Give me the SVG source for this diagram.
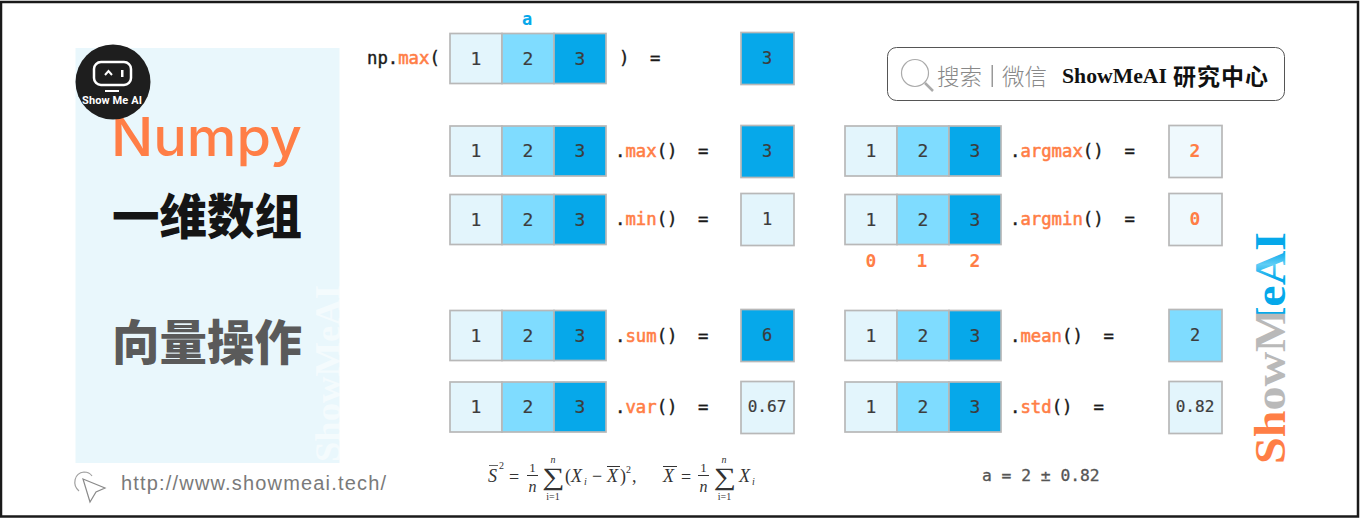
<svg xmlns="http://www.w3.org/2000/svg" width="1361" height="518" viewBox="0 0 1361 518">
<defs>
<linearGradient id="wm" gradientUnits="userSpaceOnUse" x1="0" y1="0" x2="232" y2="0">
<stop offset="0" stop-color="#ff7e46"/><stop offset="0.225" stop-color="#ff7e46"/><stop offset="0.23" stop-color="#b9b9b9"/><stop offset="0.645" stop-color="#b9b9b9"/><stop offset="0.65" stop-color="#06a8ea"/><stop offset="0.8" stop-color="#06a8ea"/><stop offset="0.86" stop-color="#5fcdf5"/><stop offset="0.92" stop-color="#06a8ea"/><stop offset="1" stop-color="#06a8ea"/>
</linearGradient>
<g id="arr">
<rect class="c1" x="0" y="0" width="52" height="50"/><rect class="c2" x="52" y="0" width="52" height="50"/><rect class="c3" x="104" y="0" width="52" height="50"/>
<text class="num" x="26" y="31">1</text><text class="num" x="78" y="31">2</text><text class="num" x="130" y="31">3</text>
</g>
</defs>
<style>
.c1{fill:#e3f5fc;stroke:#b8b8b8;stroke-width:1.7}
.c2{fill:#7fdcff;stroke:#b8b8b8;stroke-width:1.7}
.c3{fill:#06a8ea;stroke:#b8b8b8;stroke-width:1.7}
.c0{fill:#eff9fd;stroke:#b8b8b8;stroke-width:1.7}
text{font-family:"DejaVu Sans Mono","Liberation Mono",monospace}
.num{font-size:18px;fill:#3c3c3c;text-anchor:middle;stroke:#3c3c3c;stroke-width:.2}
.res{font-size:17px}
.sm{font-size:16px}
.on{fill:#ff7e46;stroke:#ff7e46;font-weight:bold;stroke-width:0}
.code{font-size:17.3px;fill:#1a1a1a;stroke:#1a1a1a;stroke-width:.4}
.o{fill:#ff7e46;stroke:#ff7e46;stroke-width:.55}
.big{font-family:"Noto Sans CJK SC",sans-serif;font-weight:900;font-size:47.5px;text-anchor:middle}
.m{font-family:"Liberation Serif",serif;fill:#333}
.mi{font-family:"Liberation Serif",serif;fill:#333;font-style:italic}
</style>
<rect x="0" y="0" width="1361" height="518" fill="#fff"/>
<rect x="1" y="2" width="1357" height="514.500" fill="none" stroke="#1a1a1a" stroke-width="2.500"/>

<g id="left-panel">
<rect x="75.500" y="48" width="264" height="415" fill="#e9f7fc"/>
<text transform="translate(340,462) rotate(-90)" style="font-family:'Liberation Serif',serif" font-weight="bold" font-size="35" fill="#fff" fill-opacity="0.5" textLength="177" lengthAdjust="spacingAndGlyphs">ShowMeAI</text>
<text x="111" y="156" style="font-family:'Inter',sans-serif" font-size="53" font-weight="500" fill="#ff7e46" textLength="191" lengthAdjust="spacingAndGlyphs">Numpy</text>
<text x="207" y="234" class="big" fill="#151515">一维数组</text>
<text x="207" y="360" class="big" fill="#5a5a5a">向量操作</text>
</g>
<g id="logo">
<circle cx="113" cy="82" r="37.500" fill="#1e1e1e"/>
<rect x="94" y="62" width="37" height="23" rx="7" fill="none" stroke="#fff" stroke-width="2.500"/>
<path d="M105 75l3.500-4l3.500 4" fill="none" stroke="#fff" stroke-width="2"/>
<rect x="121" y="70" width="2.500" height="7" fill="#fff"/>
<rect x="105" y="90" width="14" height="2" fill="#fff"/>
<text x="82" y="104" style="font-family:'Roboto',sans-serif" font-size="11" font-weight="bold" fill="#fff" textLength="60">Show Me AI</text>
</g>
<g id="url">
<path d="M83 479l22 9l-9 4l-6 10z" fill="none" stroke="#8a8a8a" stroke-width="1.200"/>
<path d="M79 491c-7-6-5-18 5-19c3 0 6 1 8 4" fill="none" stroke="#a0a0a0" stroke-width="1.200"/>
<text x="121" y="490" style="font-family:'Liberation Sans',sans-serif" font-size="20" fill="#7a7a7a" textLength="265">http://www.showmeai.tech/</text>
</g>

<g id="row-npmax">
<text x="527" y="25" font-size="17" font-weight="bold" fill="#06a8ea" text-anchor="middle">a</text>
<text x="367" y="64" class="code">np.<tspan class="o">max</tspan>(</text>
<use href="#arr" x="450" y="33.500"/>
<text x="619" y="64" class="code">)</text><text x="650" y="64" class="code">=</text>
<rect class="c3" x="741" y="32.500" width="53" height="52"/><text class="num res" x="767" y="63.500">3</text>
</g>
<g id="row-max">
<use href="#arr" x="450" y="126"/>
<text x="615" y="157" class="code">.<tspan class="o">max</tspan>()</text><text x="698" y="157" class="code">=</text>
<rect class="c3" x="741" y="125.500" width="53" height="52"/><text class="num res" x="767" y="157">3</text>
</g>
<g id="row-min">
<use href="#arr" x="450" y="194.500"/>
<text x="615" y="225" class="code">.<tspan class="o">min</tspan>()</text><text x="698" y="225" class="code">=</text>
<rect class="c1" x="741" y="193.500" width="53" height="52"/><text class="num res" x="767" y="225">1</text>
</g>
<g id="row-sum">
<use href="#arr" x="450" y="310.500"/>
<text x="615" y="341.500" class="code">.<tspan class="o">sum</tspan>()</text><text x="698" y="341.500" class="code">=</text>
<rect class="c3" x="741" y="309.500" width="53" height="52"/><text class="num res" x="767" y="341">6</text>
</g>
<g id="row-var">
<use href="#arr" x="450" y="382"/>
<text x="615" y="413" class="code">.<tspan class="o">var</tspan>()</text><text x="698" y="413" class="code">=</text>
<rect class="c1" x="741" y="381.500" width="53" height="52"/><text class="num sm" x="767" y="412">0.67</text>
</g>

<g id="row-argmax">
<use href="#arr" x="845" y="126"/>
<text x="1010" y="157" class="code">.<tspan class="o">argmax</tspan>()</text><text x="1124.500" y="157" class="code">=</text>
<rect class="c0" x="1169" y="125.500" width="53" height="52"/><text class="num on" x="1195" y="157">2</text>
</g>
<g id="row-argmin">
<use href="#arr" x="845" y="194.500"/>
<text x="1010" y="225" class="code">.<tspan class="o">argmin</tspan>()</text><text x="1124.500" y="225" class="code">=</text>
<rect class="c0" x="1169" y="193.500" width="53" height="52"/><text class="num on" x="1195" y="224.500">0</text>
<text class="num on" x="871" y="266.500">0</text><text class="num on" x="922" y="266.500">1</text><text class="num on" x="975" y="266.500">2</text>
</g>
<g id="row-mean">
<use href="#arr" x="845" y="310.500"/>
<text x="1010" y="341.500" class="code">.<tspan class="o">mean</tspan>()</text><text x="1103.500" y="341.500" class="code">=</text>
<rect class="c2" x="1169" y="309.500" width="53" height="52"/><text class="num res" x="1195" y="341">2</text>
</g>
<g id="row-std">
<use href="#arr" x="845" y="382"/>
<text x="1010" y="413" class="code">.<tspan class="o">std</tspan>()</text><text x="1093.500" y="413" class="code">=</text>
<rect class="c1" x="1169" y="381.500" width="53" height="52"/><text class="num sm" x="1195" y="412">0.82</text>
</g>

<g id="search">
<rect x="887.500" y="47.500" width="397" height="53" rx="9" fill="#fff" stroke="#555" stroke-width="1"/>
<circle cx="915" cy="73" r="13.500" fill="none" stroke="#aaa" stroke-width="1.200"/>
<path d="M925 83l8 8" stroke="#aaa" stroke-width="2.500"/>
<text x="937" y="85" style="font-family:'Noto Sans CJK SC',sans-serif" font-size="22.500" font-weight="300" fill="#888">搜索</text>
<rect x="991.500" y="65" width="1.500" height="22" fill="#999"/>
<text x="1002" y="85" style="font-family:'Noto Sans CJK SC',sans-serif" font-size="22.500" font-weight="300" fill="#888">微信</text>
<text x="1062" y="83" style="font-family:'Liberation Serif','Noto Sans CJK SC',serif" font-size="21" font-weight="bold" fill="#111" textLength="105" lengthAdjust="spacingAndGlyphs">ShowMeAI</text>
<text x="1173" y="85" style="font-family:'Noto Sans CJK SC',sans-serif" font-size="23" font-weight="bold" fill="#111" letter-spacing="1">研究中心</text>
</g>

<g id="formula">
<text x="488" y="482" class="mi" font-size="18">S</text><rect x="489" y="465" width="9" height="1" fill="#666"/><text x="499" y="469" class="m" font-size="10">2</text>
<text x="509" y="483" class="m" font-size="18">=</text>
<text x="532.500" y="472" class="m" font-size="13" text-anchor="middle">1</text><rect x="527" y="475" width="11" height="1" fill="#333"/><text x="532.500" y="491.500" class="mi" font-size="16" text-anchor="middle">n</text>
<text transform="translate(553.500,485) scale(1.250,1)" class="m" font-size="25" text-anchor="middle">∑</text>
<text x="553" y="463" class="mi" font-size="10" text-anchor="middle">n</text><text x="553" y="499.500" class="m" font-size="10" text-anchor="middle">i=1</text>
<text x="565" y="482" class="m" font-size="18">(</text><text x="571" y="482" class="mi" font-size="18">X</text><text x="584" y="485" class="mi" font-size="10">i</text><text x="592" y="482" class="m" font-size="18">−</text><text x="607" y="482" class="mi" font-size="18">X</text><rect x="607" y="466" width="13" height="1" fill="#333"/><text x="620" y="482" class="m" font-size="18">)</text><text x="626" y="473" class="m" font-size="10">2</text><text x="632" y="482" class="m" font-size="18">,</text>
<text x="663" y="482" class="mi" font-size="18">X</text><rect x="663" y="466" width="14" height="1" fill="#333"/>
<text x="681" y="483" class="m" font-size="18">=</text>
<text x="703.500" y="472" class="m" font-size="13" text-anchor="middle">1</text><rect x="698" y="475" width="11" height="1" fill="#333"/><text x="703.500" y="491.500" class="mi" font-size="16" text-anchor="middle">n</text>
<text transform="translate(725,485) scale(1.250,1)" class="m" font-size="25" text-anchor="middle">∑</text>
<text x="724" y="463" class="mi" font-size="10" text-anchor="middle">n</text><text x="724.500" y="499.500" class="m" font-size="10" text-anchor="middle">i=1</text>
<text x="739" y="482" class="mi" font-size="18">X</text><text x="752" y="485" class="mi" font-size="10">i</text>
</g>
<g id="note">
<text x="982" y="481" font-size="16.300" fill="#555" stroke="#555" stroke-width=".3">a = 2 ± 0.82</text>
</g>

<g id="watermark">
<text transform="translate(1285,464) rotate(-90)" style="font-family:'Liberation Serif',serif" font-weight="bold" font-size="44" fill="url(#wm)" textLength="232" lengthAdjust="spacingAndGlyphs">ShowMeAI</text>
</g>
</svg>
